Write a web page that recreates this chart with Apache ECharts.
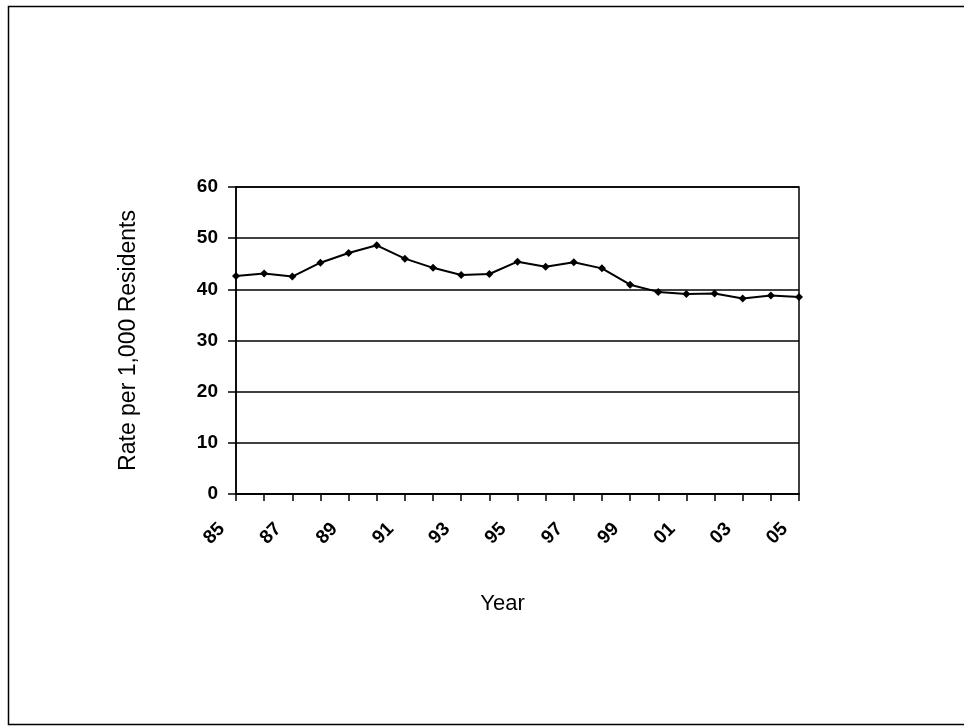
<!DOCTYPE html>
<html>
<head>
<meta charset="utf-8">
<script src="https://cdn.jsdelivr.net/npm/echarts@6/dist/echarts.min.js"></script>
<style>
html,body{margin:0;padding:0;background:#fff;}
#chart{width:964px;height:727px;}
</style>
</head>
<body>
<div id="chart"></div>
<script>
const years = ['85','86','87','88','89','90','91','92','93','94','95','96','97','98','99','00','01','02','03','04','05'];
const rates = [42.6, 43.1, 42.5, 45.2, 47.1, 48.6, 46.0, 44.2, 42.8, 43.0, 45.4, 44.4, 45.3, 44.1, 40.9, 39.5, 39.1, 39.2, 38.2, 38.8, 38.5];
const yTicks = [0, 10, 20, 30, 40, 50, 60];

const chart = echarts.init(document.getElementById('chart'), null, {renderer: 'canvas'});
chart.setOption({
  animation: false,
  backgroundColor: '#fff',
  graphic: [{
    type: 'rect',
    shape: {x: 8.5, y: 6.5, width: 1000, height: 718},
    style: {fill: 'none', stroke: '#000', lineWidth: 1.5},
    silent: true
  }],
  grid: {left: 236, right: 165, top: 187, bottom: 233, show: true, borderColor: '#000', borderWidth: 1.5, backgroundColor: 'transparent'},
  xAxis: {
    type: 'category',
    data: years,
    boundaryGap: false,
    name: 'Year',
    nameLocation: 'middle',
    nameGap: 99,
    nameTextStyle: {fontFamily: 'Liberation Sans, Arial', fontSize: 22, color: '#000', padding: [0, 30, 0, 0]},
    axisLine: {show: true, lineStyle: {color: '#000', width: 1.5}},
    axisTick: {show: true, interval: 0, length: 7, lineStyle: {color: '#000', width: 1.5}},
    axisLabel: {
      interval: 1, rotate: 45, margin: 18, padding: [0, 20, 0, 0],
      fontFamily: 'Liberation Sans, Arial', fontWeight: 'bold', fontSize: 19, color: '#000'
    },
    splitLine: {show: false}
  },
  yAxis: {
    type: 'value',
    min: 0, max: 60, interval: 10,
    name: 'Rate per 1,000 Residents',
    nameLocation: 'middle',
    nameGap: 96,
    nameTextStyle: {fontFamily: 'Liberation Sans, Arial', fontSize: 23, color: '#000'},
    axisLine: {show: true, lineStyle: {color: '#000', width: 1.5}},
    axisTick: {show: true, length: 8, lineStyle: {color: '#000', width: 1.5}},
    axisLabel: {
      margin: 18,
      fontFamily: 'Liberation Sans, Arial', fontWeight: 'bold', fontSize: 19, color: '#000',
      formatter: v => yTicks.includes(v) ? String(v) : ''
    },
    splitLine: {show: true, lineStyle: {color: '#000', width: 1.5}}
  },
  series: [{
    type: 'line',
    data: rates,
    symbol: 'diamond',
    symbolSize: 8,
    itemStyle: {color: '#000'},
    lineStyle: {color: '#000', width: 2}
  }]
});
</script>
</body>
</html>
